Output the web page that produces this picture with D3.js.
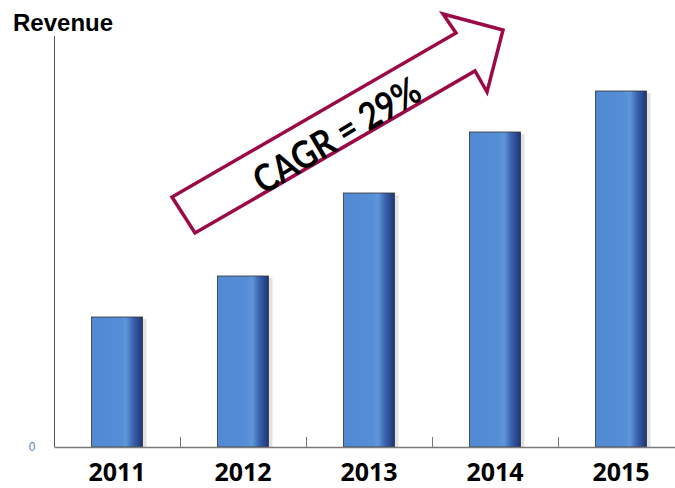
<!DOCTYPE html>
<html>
<head>
<meta charset="utf-8">
<script src="https://cdn.jsdelivr.net/npm/d3@7"></script>
<style>
  body { margin: 0; background: #fff; }
  svg { display: block; }
</style>
</head>
<body>
<svg width="675" height="488"></svg>
<script>
// data
let years = ["2011", "2012", "2013", "2014", "2015"];
let revenue = [130, 171, 254, 315, 356];
let yMax = 400;
let cagrLabel = "CAGR = 29%";
let yTitle = "Revenue";

var svg = d3.select("svg"),
    width = +svg.attr("width"),
    height = +svg.attr("height");

let x0 = 54, yBase = 447, yTop = 47;

let x = d3.scaleBand()
            .domain(years)
            .range([x0, x0 + 126 * years.length]);

let y = d3.scaleLinear()
            .domain([0, yMax])
            .range([yBase, yTop]);

let barW = x.bandwidth() * 0.405;

// gradient for bars
var defs = svg.append("defs");
var grad = defs.append("linearGradient")
    .attr("id", "barGrad")
    .attr("x1", "0%").attr("x2", "100%")
    .attr("y1", "0%").attr("y2", "0%");
grad.append("stop").attr("offset", "0%").attr("stop-color", "#5189d3");
grad.append("stop").attr("offset", "55%").attr("stop-color", "#558ed6");
grad.append("stop").attr("offset", "68%").attr("stop-color", "#5f96da");
grad.append("stop").attr("offset", "82%").attr("stop-color", "#3a62ac");
grad.append("stop").attr("offset", "100%").attr("stop-color", "#1d3578");

// shadows
svg.append("g")
    .selectAll("rect")
    .data(years)
    .enter().append("rect")
    .attr("x", (d, i) => x(d) + (x.bandwidth() - barW) / 2 + 2)
    .attr("y", (d, i) => y(revenue[i]) + 2)
    .attr("width", barW + 2)
    .attr("height", (d, i) => yBase - y(revenue[i]) - 2)
    .attr("fill", "#e2e2e2");

// bars
svg.append("g")
    .selectAll("rect")
    .data(years)
    .enter().append("rect")
    .attr("x", (d, i) => x(d) + (x.bandwidth() - barW) / 2)
    .attr("y", (d, i) => y(revenue[i]))
    .attr("width", barW)
    .attr("height", (d, i) => yBase - y(revenue[i]))
    .attr("fill", "url(#barGrad)")
    .attr("stroke", "#333")
    .attr("stroke-width", 0.8);

// axes
svg.append("line")
    .attr("x1", x0 + 0.5).attr("x2", x0 + 0.5)
    .attr("y1", 36).attr("y2", yBase)
    .attr("stroke", "#555").attr("stroke-width", 1);

var xAxis = d3.axisBottom(x).tickSize(0).tickFormat("");
svg.append("g")
    .attr("transform", "translate(0," + yBase + ")")
    .call(xAxis)
    .call(g => g.select(".domain").attr("stroke", "#7a7a7a").attr("stroke-width", 1.5));

// inward ticks at band boundaries
svg.append("g")
    .selectAll("line")
    .data(years.slice(1))
    .enter().append("line")
    .attr("x1", d => x(d) + 0.5).attr("x2", d => x(d) + 0.5)
    .attr("y1", yBase - 10).attr("y2", yBase)
    .attr("stroke", "#777").attr("stroke-width", 1);

svg.append("g")
    .selectAll("text")
    .data(years)
    .enter().append("text")
    .attr("x", d => x(d) + x.bandwidth() / 2)
    .attr("y", 481)
    .attr("text-anchor", "middle")
    .attr("font-family", "Open Sans")
    .attr("font-weight", "bold")
    .attr("font-size", 25)
    .attr("fill", "#000")
    .text(d => d);

// zero label
svg.append("text")
    .attr("x", 32).attr("y", 451)
    .attr("text-anchor", "middle")
    .attr("font-family", "Liberation Sans")
    .attr("font-size", 12)
    .attr("fill", "#5b7fc0")
    .text(y.ticks(1)[0]);

// title
svg.append("text")
    .attr("x", 13).attr("y", 31)
    .attr("font-family", "Liberation Sans")
    .attr("font-weight", "bold")
    .attr("font-size", 24)
    .attr("fill", "#000")
    .text(yTitle);

// CAGR arrow
let arrowPts = [[172, 197], [195, 233], [475, 71], [487, 92], [503, 30], [443, 14], [456, 33]];
svg.append("path")
    .attr("d", d3.line()(arrowPts) + "Z")
    .attr("fill", "#fff")
    .attr("stroke", "#9b0a46")
    .attr("stroke-width", 3.5)
    .attr("stroke-linejoin", "miter");

svg.append("text")
    .attr("transform", "translate(336,134) rotate(-31)")
    .attr("text-anchor", "middle")
    .attr("dominant-baseline", "central")
    .attr("font-family", "Lato")
    .attr("font-weight", "bold")
    .attr("font-size", 38)
    .attr("textLength", 188)
    .attr("lengthAdjust", "spacingAndGlyphs")
    .attr("fill", "#000")
    .text(cagrLabel);
</script>
</body>
</html>
